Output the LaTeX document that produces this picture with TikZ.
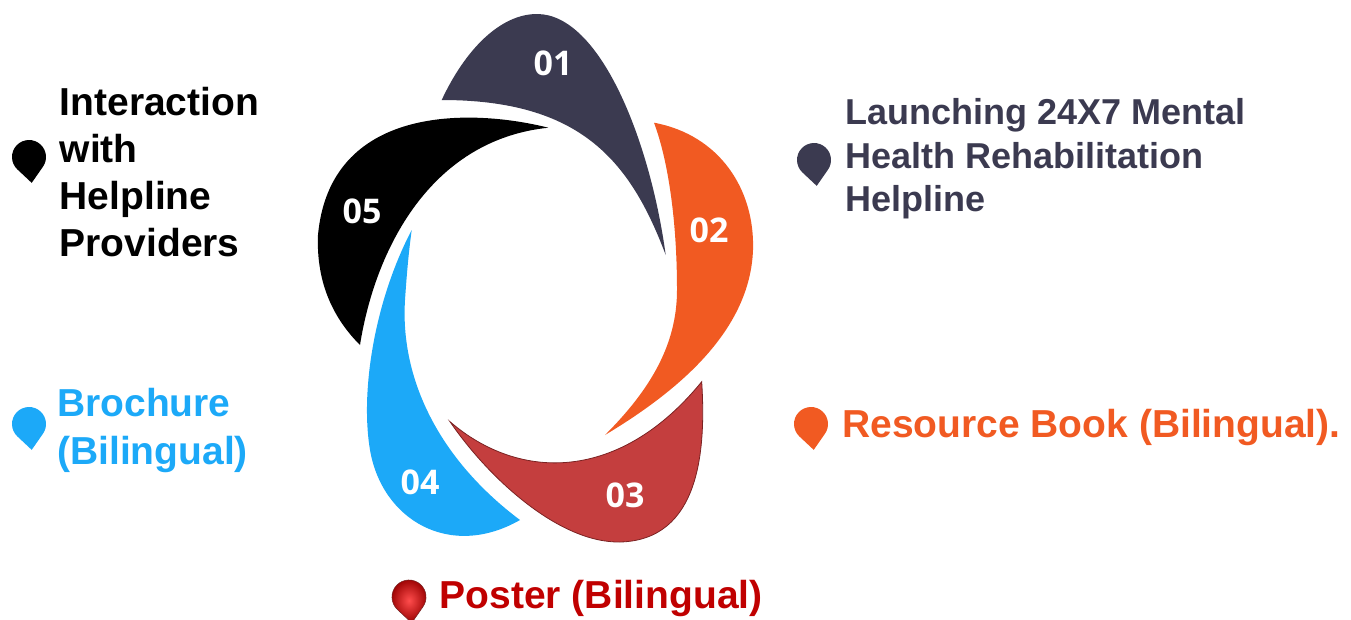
\documentclass[tikz,border=0pt]{standalone}
\usepackage{fontspec}
\setmainfont{Liberation Sans}
\newfontfamily\numfont{Open Sans}
\definecolor{cdark}{HTML}{3B3A50}
\definecolor{corange}{HTML}{F15A22}
\definecolor{cblue}{HTML}{1CA9F8}
\definecolor{cred}{HTML}{C43E3E}
\definecolor{credline}{HTML}{7A2222}
\definecolor{cposter}{HTML}{C00000}
\newcommand\droppin[3]{%
  \begin{scope}[shift={(#1,#2)},rotate=6]
    \fill[#3] (0,26) -- (139.2:17) arc[start angle=139.2,end angle=400.8,radius=17] -- cycle;
  \end{scope}}
\tikzset{
  lbl/.style={inner sep=0pt,align=left,font=\bfseries\fontsize{39}{47}\selectfont},
  num/.style={text=white,inner sep=0pt,font=\numfont\bfseries\fontsize{34}{34}\selectfont}
}
\begin{document}
\begin{tikzpicture}[x=1pt,y=-1pt]
\useasboundingbox (0,0) rectangle (1351,619);
% petal 01
\fill[cdark] (441.7,100) .. controls (465,50) and (500,14) .. (537,14)
  .. controls (600,14) and (650,140) .. (665.7,255)
  .. controls (630,160) and (580,100) .. (441.7,100) -- cycle;
% petal 05
\fill[black] (548.3,127.7) .. controls (470,108) and (330,105) .. (318,235)
  .. controls (316,285) and (335,320) .. (360,345)
  .. controls (375,250) and (430,140) .. (548.3,127.7) -- cycle;
% petal 02
\fill[corange] (654,122.7) .. controls (720,135) and (755,190) .. (753,250)
  .. controls (750,330) and (680,390) .. (605,435)
  .. controls (650,390) and (677,345) .. (677,290)
  .. controls (677,220) and (668,160) .. (654,122.7) -- cycle;
% petal 03
\filldraw[fill=cred,draw=credline,line width=0.8pt] (450,421.7) .. controls (520,482) and (620,482) .. (701.7,381.7)
  .. controls (706,450) and (700,540) .. (620,542)
  .. controls (560,543) and (490,480) .. (450,421.7) -- cycle;
% petal 04
\fill[cblue] (411.7,230) .. controls (375,300) and (360,390) .. (370,450)
  .. controls (382,520) and (450,560) .. (520,520)
  .. controls (440,460) and (400,380) .. (405,300)
  .. controls (407,270) and (409,250) .. (411.7,230) -- cycle;
% numbers
\node[num] (n1) at (553,63) {01};
\node[num] (n2) at (709,230) {02};
\node[num] (n3) at (625,495) {03};
\node[num] (n4) at (420,482) {04};
\node[num] (n5) at (362,211) {05};
% markers
\droppin{29}{157}{black}
\droppin{29}{424}{cblue}
\droppin{814}{160}{cdark}
\droppin{811}{424}{corange}
\begin{scope}[shift={(409,597)},rotate=6]
  \shade[inner color=red!70!white,outer color=cposter!80!black,draw=credline,line width=0.6pt] (0,26) -- (139.2:17) arc[start angle=139.2,end angle=400.8,radius=17] -- cycle;
\end{scope}
% labels
\node[lbl,anchor=north west,text=black] (t5) at (59.5,87) {Interaction\\with\\Helpline\\Providers};
\node[lbl,anchor=north west,text=cdark,font=\bfseries\fontsize{36}{43.5}\selectfont] (t1) at (845.5,98.3) {Launching 24X7 Mental\\Health Rehabilitation\\Helpline};
\node[lbl,anchor=north west,text=cblue,font=\bfseries\fontsize{39}{48}\selectfont] (t4) at (57,388) {Brochure\\(Bilingual)};
\node[lbl,anchor=base west,text=corange] (t2) at (842,437) {Resource Book (Bilingual).};
\node[lbl,anchor=base west,text=cposter] (t3) at (439.5,608) {Poster (Bilingual)};
\end{tikzpicture}
\end{document}
